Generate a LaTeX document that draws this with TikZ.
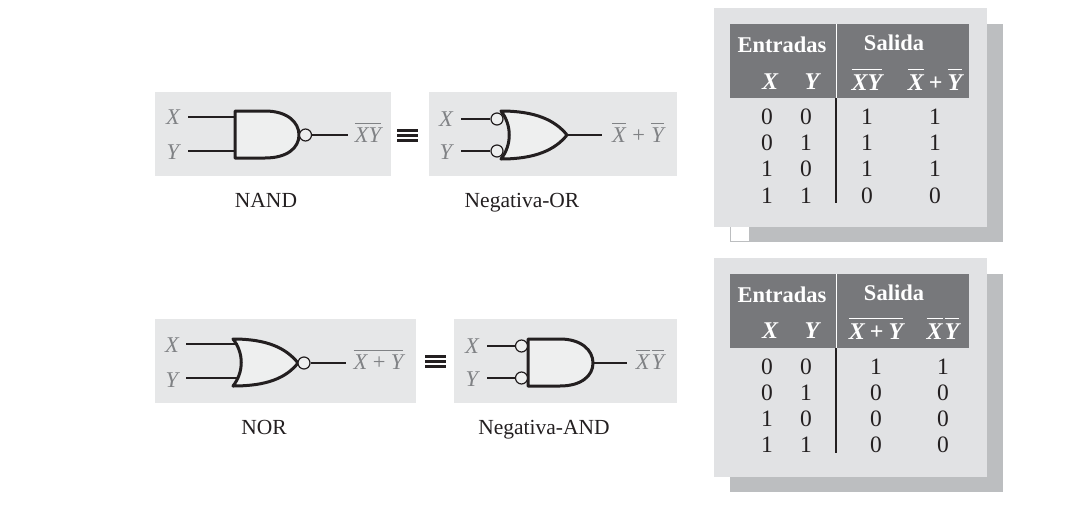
\documentclass[tikz,border=0pt]{standalone}
\usepackage{fontspec}
\setmainfont{Liberation Serif}
\definecolor{panelgray}{HTML}{E6E7E8}
\definecolor{gatefill}{HTML}{EEEFEF}
\definecolor{labelgray}{HTML}{808285}
\definecolor{tablepanel}{HTML}{E1E2E4}
\definecolor{tableshadow}{HTML}{BCBEC0}
\definecolor{tablehead}{HTML}{77787B}
\definecolor{inkblack}{HTML}{231F20}
\newcommand{\ovl}[1]{$\overline{\mbox{\rule{0pt}{17pt}#1}}$}
\newcommand{\ovh}[1]{$\overline{\mbox{\rule{0pt}{19.5pt}#1}}$}
\tikzset{
  panel/.style={fill=panelgray,draw=none},
  gatebody/.style={draw=inkblack,fill=gatefill,line width=3pt,line join=round},
  wire/.style={draw=inkblack,line width=1.6pt},
  bubble/.style={circle,draw=inkblack,fill=gatefill,line width=1.2pt,minimum size=12pt,inner sep=0pt},
  siglabel/.style={text=labelgray,font=\fontsize{22.5}{26}\selectfont\itshape,inner sep=0pt},
  sigout/.style={siglabel,anchor=base},
  caption/.style={text=inkblack,font=\fontsize{21.5}{26}\selectfont,inner sep=0pt,anchor=base},
  equiv/.style={fill=inkblack,draw=none},
  headtext/.style={text=white,font=\fontsize{22.5}{26}\selectfont\bfseries,inner sep=0pt},
  headvar/.style={text=white,font=\fontsize{24}{28}\selectfont\bfseries\itshape,inner sep=0pt},
  headout/.style={headvar,anchor=base},
  cell/.style={text=inkblack,font=\fontsize{23.5}{28}\selectfont,inner sep=0pt},
}
\begin{document}
\begin{tikzpicture}[x=1pt,y=-1pt]
\useasboundingbox (0,0) rectangle (1087,517);
\fill[white] (0,0) rectangle (1087,517);

% ---------- panels
\fill[panel] (155,92) rectangle (391,176);
\fill[panel] (429,92) rectangle (677,176);
\fill[panel] (155,319) rectangle (416,403);
\fill[panel] (454,319) rectangle (677,403);

% ---------- NAND
\draw[gatebody] (235,111) -- (265,111) .. controls (287,111) and (299,122) .. (299,135)
  .. controls (299,148) and (287,158) .. (265,158) -- (235,158) -- cycle;
\coordinate (nandA) at (188,117); \coordinate (nandAp) at (235,117);
\coordinate (nandB) at (188,151); \coordinate (nandBp) at (235,151);
\coordinate (nandO) at (348,135);
\node[bubble] (nandN) at (305.5,135) {};
\draw[wire] (nandA) -- (nandAp);
\draw[wire] (nandB) -- (nandBp);
\draw[wire] (nandN) -- (nandO);
\node[siglabel] (nandX) at (173,117) {X};
\node[siglabel] (nandY) at (173,152) {Y};
\node[sigout] (nandF) at (368,142) {\ovl{XY}};
\node[caption] (nandC) at (266,207) {NAND};

% ---------- equivalence 1
\fill[equiv] (397,128.5) rectangle (418,131.5);
\fill[equiv] (397,133.8) rectangle (418,136.9);
\fill[equiv] (397,139.2) rectangle (418,142.2);

% ---------- Negativa-OR
\draw[gatebody] (501,111) .. controls (535,111) and (555,120) .. (567,135)
  .. controls (555,150) and (535,159) .. (501,159)
  .. controls (512,145) and (512,125) .. (501,111) -- cycle;
\coordinate (norA) at (461,119);
\coordinate (norB) at (461,151);
\coordinate (norOp) at (567,135);
\coordinate (norO) at (602,135);
\node[bubble] (norNa) at (497,119) {};
\node[bubble] (norNb) at (497,151) {};
\draw[wire] (norA) -- (norNa);
\draw[wire] (norB) -- (norNb);
\draw[wire] (norOp) -- (norO);
\node[siglabel] (norX) at (446,119) {X};
\node[siglabel] (norY) at (446,152) {Y};
\node[sigout] (norF) at (638,142) {\ovl{X}\kern6.5pt{\upshape +}\kern6.5pt\ovl{Y}};
\node[caption] (norC) at (522,207) {Negativa-OR};

% ---------- NOR
\draw[gatebody] (233,339) .. controls (267,339) and (286,348) .. (298,363)
  .. controls (286,378) and (267,386) .. (233,386)
  .. controls (244,372) and (244,353) .. (233,339) -- cycle;
\coordinate (norgA) at (186,344); \coordinate (norgAp) at (238,344);
\coordinate (norgB) at (186,378); \coordinate (norgBp) at (238,378);
\coordinate (norgO) at (346,363);
\node[bubble] (norgN) at (304,363) {};
\draw[wire] (norgA) -- (norgAp);
\draw[wire] (norgB) -- (norgBp);
\draw[wire] (norgN) -- (norgO);
\node[siglabel] (norgX) at (172,345) {X};
\node[siglabel] (norgY) at (172,380) {Y};
\node[sigout] (norgF) at (378.5,369) {\ovl{X\kern5.5pt{\upshape +}\kern5.5pt Y}};
\node[caption] (norgC) at (264,434) {NOR};

% ---------- equivalence 2
\fill[equiv] (425,354.5) rectangle (446,357.5);
\fill[equiv] (425,359.8) rectangle (446,362.9);
\fill[equiv] (425,365.2) rectangle (446,368.2);

% ---------- Negativa-AND
\draw[gatebody] (528,339) -- (560,339) .. controls (581,339) and (593,350) .. (593,363)
  .. controls (593,376) and (581,386) .. (560,386) -- (528,386) -- cycle;
\coordinate (nandgA) at (487,346);
\coordinate (nandgB) at (487,378);
\coordinate (nandgOp) at (593,363);
\coordinate (nandgO) at (627,363);
\node[bubble] (nandgNa) at (521.5,346) {};
\node[bubble] (nandgNb) at (521.5,378) {};
\draw[wire] (nandgA) -- (nandgNa);
\draw[wire] (nandgB) -- (nandgNb);
\draw[wire] (nandgOp) -- (nandgO);
\node[siglabel] (nandgX) at (472,346) {X};
\node[siglabel] (nandgY) at (472,379) {Y};
\node[sigout] (nandgF) at (650,369) {\ovl{X}\kern2pt\ovl{Y}};
\node[caption] (nandgC) at (544,434) {Negativa-AND};

% ---------- table 1
\fill[tableshadow] (730,24) rectangle (1003,242);
\fill[white] (731,227) rectangle (749,241);
\fill[tablepanel] (714,8) rectangle (987,227);
\fill[tablehead] (730,24) rectangle (969,98);
\draw[white,line width=1pt] (836,24) -- (836,98);
\draw[inkblack,line width=1.3pt] (836,98) -- (836,203);
\node[headtext] (taE) at (782,45) {Entradas};
\node[headtext] (taS) at (894,43) {Salida};
\node[headvar] (taX) at (770,82) {X};
\node[headvar] (taY) at (812,82) {Y};
\node[headout] (taF) at (867,90) {\ovh{XY}};
\node[headout] (taG) at (935,90) {\ovh{X}\kern5pt{\upshape +}\kern5pt\ovh{Y}};
\foreach \r/\y/\a/\b/\c/\d in {1/117/0/0/1/1,2/143/0/1/1/1,3/169/1/0/1/1,4/196/1/1/0/0}{
  \node[cell] (ta\r a) at (767,\y) {\a};
  \node[cell] (ta\r b) at (806,\y) {\b};
  \node[cell] (ta\r c) at (867,\y) {\c};
  \node[cell] (ta\r d) at (935,\y) {\d};
}

% ---------- table 2
\fill[tableshadow] (730,274) rectangle (1003,492);
\fill[tablepanel] (714,258) rectangle (987,477);
\fill[tablehead] (730,274) rectangle (969,348);
\draw[white,line width=1pt] (836,274) -- (836,348);
\draw[inkblack,line width=1.3pt] (836,348) -- (836,453);
\node[headtext] (tbE) at (782,295) {Entradas};
\node[headtext] (tbS) at (894,293) {Salida};
\node[headvar] (tbX) at (770,331) {X};
\node[headvar] (tbY) at (812,331) {Y};
\node[headout] (tbF) at (876,339) {\ovh{X\kern5pt{\upshape +}\kern5pt Y}};
\node[headout] (tbG) at (943,339) {\ovh{X}\kern2pt\ovh{Y}};
\foreach \r/\y/\a/\b/\c/\d in {1/367/0/0/1/1,2/393/0/1/0/0,3/419/1/0/0/0,4/445/1/1/0/0}{
  \node[cell] (tb\r a) at (767,\y) {\a};
  \node[cell] (tb\r b) at (806,\y) {\b};
  \node[cell] (tb\r c) at (876,\y) {\c};
  \node[cell] (tb\r d) at (943,\y) {\d};
}
\end{tikzpicture}
\end{document}
